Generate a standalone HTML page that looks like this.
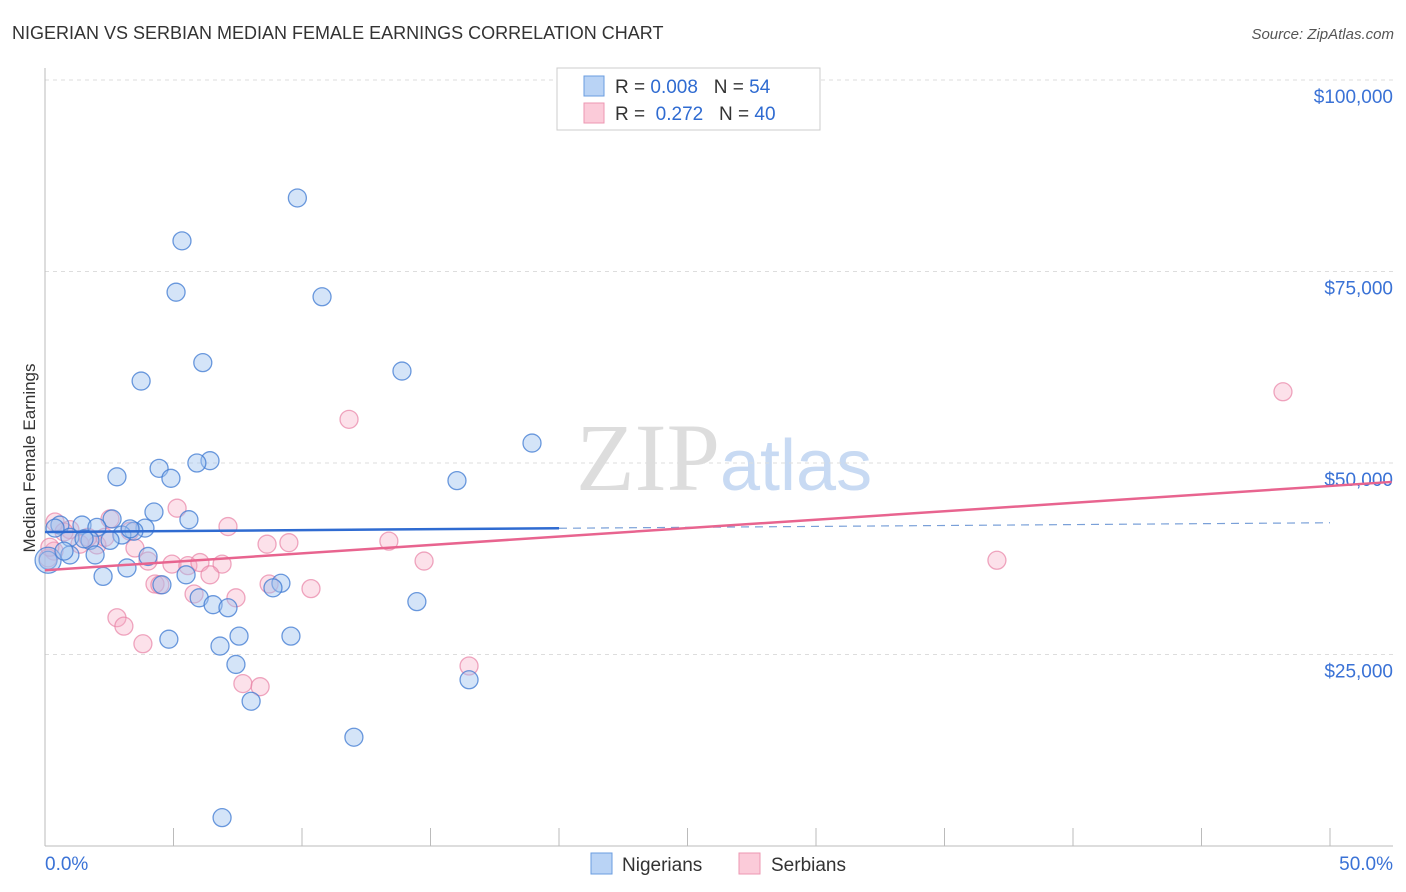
<!DOCTYPE html>
<html><head><meta charset="utf-8"><style>
body{margin:0;background:#fff;font-family:"Liberation Sans",sans-serif}
svg{display:block}
</style></head><body>
<svg id="c" width="1406" height="892">
<text x="12" y="39" font-size="18" fill="#333">NIGERIAN VS SERBIAN MEDIAN FEMALE EARNINGS CORRELATION CHART</text>
<text x="1394" y="39" font-size="15" fill="#555" font-style="italic" text-anchor="end">Source: ZipAtlas.com</text>
<text x="720" y="490" font-size="96" fill="#ddd" text-anchor="end" font-family="Liberation Serif">ZIP</text>
<text x="720" y="490" font-size="72" fill="#c8daf3">atlas</text>
<text transform="translate(35,458) rotate(-90)" font-size="17" fill="#333" text-anchor="middle">Median Female Earnings</text>
<g id="grid"></g><g id="axes"></g><g id="pts"></g><g id="lines"></g>
<g>
<rect x="557" y="68" width="263" height="62" fill="#fff" stroke="#ccc"/>
<rect x="584" y="76" width="20" height="20" fill="#b9d3f5" stroke="#6a9de0"/>
<rect x="584" y="103" width="20" height="20" fill="#fbcbd9" stroke="#ec97b2"/>
<text x="615" y="93" font-size="19" fill="#333">R = <tspan fill="#2f6bd1">0.008</tspan>&#160;&#160;&#160;N = <tspan fill="#2f6bd1">54</tspan></text>
<text x="615" y="120" font-size="19" fill="#333">R = &#160;<tspan fill="#2f6bd1">0.272</tspan>&#160;&#160;&#160;N = <tspan fill="#2f6bd1">40</tspan></text>
</g>
<g>
<rect x="591" y="853" width="21" height="21" fill="#b9d3f5" stroke="#6a9de0"/>
<text x="622" y="871" font-size="19" fill="#333">Nigerians</text>
<rect x="739" y="853" width="21" height="21" fill="#fbcbd9" stroke="#ec97b2"/>
<text x="771" y="871" font-size="19" fill="#333">Serbians</text>
</g>
</svg>
<script>
const yTicks=[25000,50000,75000,100000];
const yTickLabels=["$25,000","$50,000","$75,000","$100,000"];
const nigerianX=[9.82,5.33,5.10,10.78,6.14,13.89,3.74,18.95,6.42,4.44,5.91,4.90,2.80,16.03,4.24,2.61,5.60,1.44,3.89,3.46,2.02,0.58,2.99,0.97,1.75,4.01,1.95,0.97,0.12,3.19,2.26,5.49,4.55,9.18,8.87,6.00,6.54,7.12,14.47,4.82,7.55,9.57,6.81,7.43,16.50,8.02,12.02,6.89,0.39,0.12,2.53,1.52,0.74,3.31];
const nigerianY=[84600,79000,72300,71700,63100,62000,60700,52600,50300,49300,50000,48000,48200,47700,43600,42700,42600,41900,41500,41100,41600,41900,40600,40300,39900,37800,38000,38000,37300,36300,35200,35400,34100,34300,33700,32400,31500,31100,31900,27000,27400,27400,26100,23700,21700,18900,14200,3700,41500,37300,39900,40100,38500,41400];
const serbianX=[48.17,11.83,5.14,2.53,7.12,0.39,0.97,3.31,8.64,9.49,13.38,0.74,2.02,3.50,4.01,4.94,5.56,6.03,6.89,14.75,37.04,6.42,4.28,4.47,8.72,10.35,5.80,7.43,2.80,3.07,3.81,16.50,7.70,8.37,0.35,1.36,2.33,1.67,0.12,0.19];
const serbianY=[59300,55700,44100,42700,41700,42300,41300,41100,39400,39600,39800,41000,39300,38900,37200,36800,36600,37000,36800,37200,37300,35400,34200,34100,34200,33600,32900,32400,29800,28700,26400,23500,21200,20800,38500,39400,40300,40300,37600,39000];
const blueFit=[41000,42200];const pinkFit=[36000,47000];
const X=p=>45+p*25.7, Y=v=>846-v/25000*191.5;
const NS="http://www.w3.org/2000/svg";
function mk(t,a,parent){const e=document.createElementNS(NS,t);for(const k in a)e.setAttribute(k,a[k]);document.getElementById(parent).appendChild(e);return e;}
yTicks.forEach((v,i)=>{
 const l=mk('line',{x1:45,x2:1393,y1:Y(v),y2:Y(v),stroke:'#ddd','stroke-dasharray':'4,4'},'grid');
 
 
 const t=mk('text',{x:1393,y:Y(v)+23,'font-size':19,fill:'#3a72d6','text-anchor':'end'},'grid');
 t.textContent=yTickLabels[i];
 
 
});
mk('line',{x1:45,x2:45,y1:68,y2:846,stroke:'#bbb'},'axes');
mk('line',{x1:45,x2:1393,y1:846,y2:846,stroke:'#bbb'},'axes');
for(let i=0;i<=10;i++){const t=mk('line',{x1:X(i*5),x2:X(i*5),y1:828,y2:846,stroke:'#bbb'},'axes');
 
 }
let t0=mk('text',{x:45,y:870,'font-size':19,fill:'#3a72d6'},'axes');t0.textContent='0.0%';


let t1=mk('text',{x:1393,y:870,'font-size':19,fill:'#3a72d6','text-anchor':'end'},'axes');t1.textContent='50.0%';


serbianX.forEach((x,i)=>{const c=mk('circle',{cx:X(x),cy:Y(serbianY[i]),r:9,fill:'rgba(246,170,195,0.35)',stroke:'rgba(232,130,165,0.7)','stroke-width':1.3},'pts');
 
 });
nigerianX.forEach((x,i)=>{const c=mk('circle',{cx:X(x),cy:Y(nigerianY[i]),r:(i===49?13:9),fill:'rgba(160,195,240,0.45)',stroke:'rgba(60,120,210,0.75)','stroke-width':1.3},'pts');
 
 });
const bAt=p=>blueFit[0]+(blueFit[1]-blueFit[0])*p/50;
let b1=mk('line',{x1:X(0),y1:Y(bAt(0)),x2:X(20),y2:Y(bAt(20)),stroke:'#2f6bd1','stroke-width':2.5},'lines');


let b2=mk('line',{x1:X(20),y1:Y(bAt(20)),x2:X(50),y2:Y(bAt(50)),stroke:'#7aa0d8','stroke-width':1.2,'stroke-dasharray':'8,6'},'lines');


const pAt=p=>pinkFit[0]+(pinkFit[1]-pinkFit[0])*p/50;
let p1=mk('line',{x1:X(0),y1:Y(pAt(0)),x2:X(52.4),y2:Y(pAt(52.4)),stroke:'#e8648f','stroke-width':2.5},'lines');


</script>
</body></html>
